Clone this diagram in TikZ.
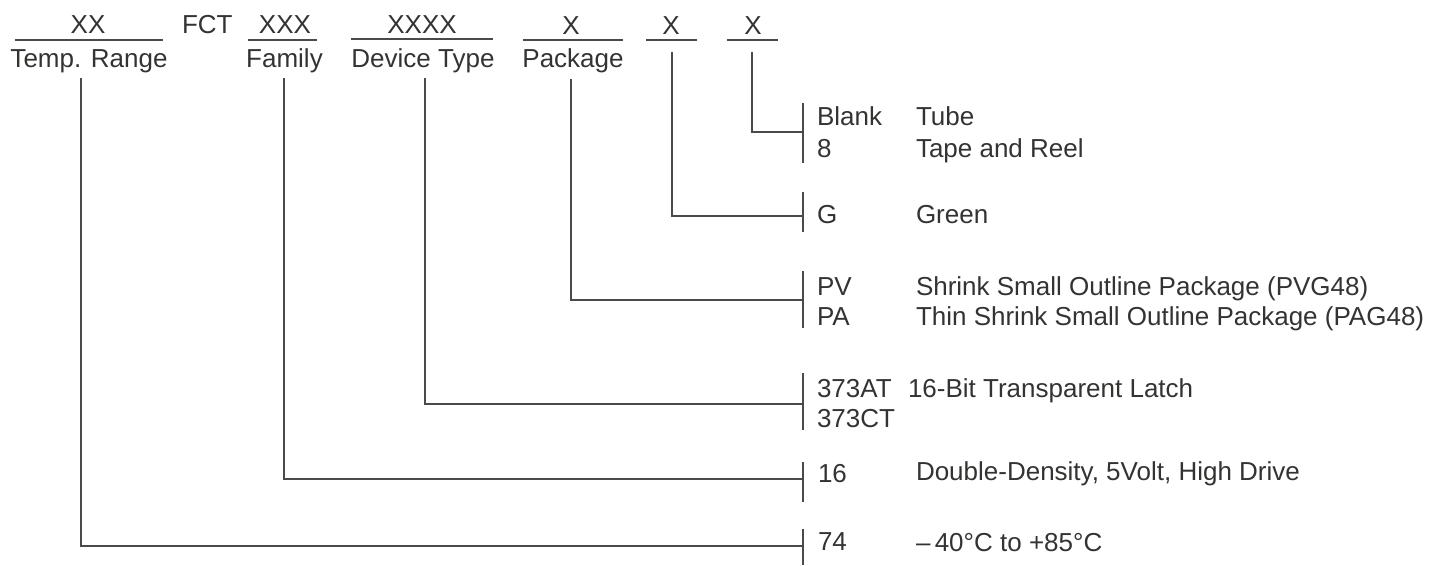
\documentclass[tikz,border=0pt]{standalone}
\usepackage{fontspec}
\setmainfont{Liberation Sans}
\definecolor{txt}{HTML}{333331}
\definecolor{ln}{HTML}{4A4A48}
\begin{document}
\begin{tikzpicture}[x=1pt,y=-1pt,
  every node/.style={inner sep=0pt, outer sep=0pt, text=txt, font=\fontsize{26}{30}\selectfont},
  conn/.style={draw=ln, line width=1.5pt},
  uline/.style={draw=ln, line width=1.5pt},
  bar/.style={draw=ln, line width=1.5pt},
  code/.style={anchor=base west},
  desc/.style={anchor=base west}]
\useasboundingbox (0,0) rectangle (1434,565);
% top row
\node[anchor=base] (xx) at (88,33) {XX};
\node[anchor=base west] (fct) at (182,33) {FCT};
\node[anchor=base] (xxx) at (285,33) {XXX};
\node[anchor=base] (xxxx) at (422,33) {XXXX};
\node[anchor=base] (xp) at (571,34) {X};
\node[anchor=base] (xg) at (671,34) {X};
\node[anchor=base] (xt) at (753,34) {X};
\draw[uline] (15,40) -- (163,40);
\draw[uline] (248,40) -- (317,40);
\draw[uline] (351,39) -- (493,39);
\draw[uline] (523,40) -- (623,40);
\draw[uline] (646,40) -- (697,40);
\draw[uline] (727,40) -- (778,40);
% labels
\node[anchor=base] (ltr) at (89,67) {Temp. Range};
\node[anchor=base] (lfam) at (284.5,67) {Family};
\node[anchor=base] (ldev) at (423,67) {Device Type};
\node[anchor=base] (lpkg) at (573,67) {Package};
% connector start points
\coordinate (s1) at (81,78);
\coordinate (s2) at (284,78);
\coordinate (s3) at (425,78);
\coordinate (s4) at (571,79);
\coordinate (s5) at (672,52);
\coordinate (s6) at (752,52);
% bar join points
\coordinate (j6) at (803,132);
\coordinate (j5) at (803,216);
\coordinate (j4) at (803,300);
\coordinate (j3) at (803,404);
\coordinate (j2) at (803,479);
\coordinate (j1) at (803,546);
% bars
\draw[bar] (803,103) -- (803,163);
\draw[bar] (803,192) -- (803,232);
\draw[bar] (803,271) -- (803,328);
\draw[bar] (803,373) -- (803,430);
\draw[bar] (803,462) -- (803,502);
\draw[bar] (803,529) -- (803,565);
% connectors
\draw[conn] (s1) |- (j1);
\draw[conn] (s2) |- (j2);
\draw[conn] (s3) |- (j3);
\draw[conn] (s4) |- (j4);
\draw[conn] (s5) |- (j5);
\draw[conn] (s6) |- (j6);
% options
\node[code] (cblank) at (817,125) {Blank};
\node[desc] (dtube) at (916,125) {Tube};
\node[code] (c8) at (817,157) {8};
\node[desc] (dtape) at (916,157) {Tape and Reel};
\node[code] (cg) at (817,223) {G};
\node[desc] (dgreen) at (916,223) {Green};
\node[code] (cpv) at (817,295) {PV};
\node[desc] (dpv) at (916,295) {Shrink Small Outline Package (PVG48)};
\node[code] (cpa) at (817,325) {PA};
\node[desc] (dpa) at (916,325) {Thin Shrink Small Outline Package (PAG48)};
\node[code] (cat) at (817,397) {373AT};
\node[desc] (dlatch) at (908,397) {16-Bit Transparent Latch};
\node[code] (cct) at (817,427) {373CT};
\node[code] (c16) at (818,482) {16};
\node[desc] (d16) at (916,480) {Double-Density, 5Volt, High Drive};
\node[code] (c74) at (818,550) {74};
\node[desc] (d74) at (916,551) {–\,40°C to +85°C};
\end{tikzpicture}
\end{document}
